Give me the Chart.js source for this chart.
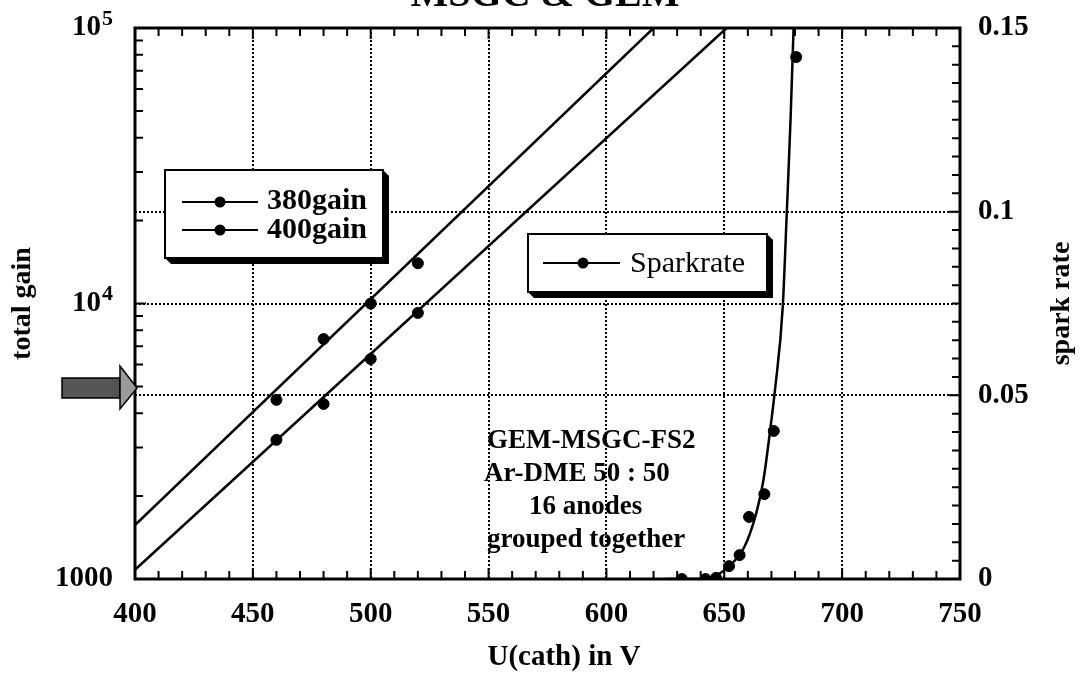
<!DOCTYPE html>
<html>
<head>
<meta charset="utf-8">
<title>MSGC &amp; GEM</title>
<script src="https://cdn.jsdelivr.net/npm/chart.js@4.4.1/dist/chart.umd.min.js"></script>
<style>
  html, body { margin: 0; padding: 0; background: #fff; }
  #wrap { width: 1084px; height: 680px; overflow: hidden; }
</style>
</head>
<body>
<div id="wrap"><canvas id="gainChart" width="1084" height="680"></canvas></div>
<script>
// measured gain, two settings
const voltage380 = [460, 480, 500, 520];
const gain380 = [4470, 7430, 10000, 14000];
const voltage400 = [460, 480, 500, 520];
const gain400 = [3200, 4320, 6290, 9240];

// straight fits (log gain vs voltage), end points
const fit380Volt = [400, 620];
const fit380Gain = [1570, 100000];
const fit400Volt = [400, 651];
const fit400Gain = [1080, 100000];

// spark rate, right axis
const sparkVolt = [632, 642, 646.5, 652, 656.5, 660.5, 667, 671, 680.5];
const sparkRate = [0, 0, 0.0003, 0.0035, 0.0065, 0.0169, 0.0231, 0.0403, 0.1421];
const sparkFitVolt = [625, 636, 644.5, 651.7, 658.5, 663.6, 666.6, 670, 671.5, 674.8, 676.5, 678.1, 679.4];
const sparkFitRate = [0, 0, 0.0005, 0.0033, 0.0087, 0.018, 0.0269, 0.0433, 0.0514, 0.0741, 0.0995, 0.1249, 0.15];

// axis ticks
const voltTicks = [400, 450, 500, 550, 600, 650, 700, 750];
const gainTicks = [1000, 10000, 100000];
const gainBase = ['1000', '10', '10'];
const gainExp = ['', '4', '5'];
const rateTicks = [0, 0.05, 0.1, 0.15];

const serif = "'Liberation Serif', 'Times New Roman', serif";
const pts = (xs, ys) => xs.map((v, i) => ({ x: v, y: ys[i] }));
const dotted = '#000';
const noLine = 'rgba(0,0,0,0)';

const drawBox = (ctx, x, y, w, h) => {
  const d = 6;
  ctx.fillStyle = '#000';
  ctx.beginPath();
  ctx.moveTo(x, y + h);
  ctx.lineTo(x + d, y + h + d);
  ctx.lineTo(x + w + d, y + h + d);
  ctx.lineTo(x + w + d, y + d);
  ctx.lineTo(x + w, y);
  ctx.closePath();
  ctx.fill();
  ctx.fillStyle = '#fff';
  ctx.fillRect(x, y, w, h);
  ctx.lineWidth = 2;
  ctx.strokeStyle = '#000';
  ctx.strokeRect(x, y, w, h);
};

const legendSample = (ctx, x1, x2, xm, y) => {
  ctx.lineWidth = 2;
  ctx.beginPath();
  ctx.moveTo(x1, y);
  ctx.lineTo(x2, y);
  ctx.stroke();
  ctx.fillStyle = '#000';
  ctx.beginPath();
  ctx.arc(xm, y, 5.5, 0, Math.PI * 2);
  ctx.fill();
};

const decorPlugin = {
  id: 'decor',
  afterDraw(chart) {
    const { ctx, chartArea: a, scales } = chart;
    const sx = scales.x, sy = scales.y, sr = scales.y2;
    ctx.save();

    // inward tick marks on all four sides
    ctx.strokeStyle = '#000';
    ctx.lineWidth = 2;
    ctx.beginPath();
    for (let v = 410; v < 750; v += 10) {
      const px = sx.getPixelForValue(v);
      const len = v % 50 === 0 ? 11 : 8;
      ctx.moveTo(px, a.bottom); ctx.lineTo(px, a.bottom - len);
      ctx.moveTo(px, a.top); ctx.lineTo(px, a.top + len);
    }
    [1000, 10000].forEach((dec) => {
      for (let m = 2; m <= 9; m++) {
        const py = sy.getPixelForValue(dec * m);
        ctx.moveTo(a.left, py); ctx.lineTo(a.left + 8, py);
      }
    });
    const py4 = sy.getPixelForValue(10000);
    ctx.moveTo(a.left, py4); ctx.lineTo(a.left + 11, py4);
    for (let k = 1; k < 30; k++) {
      const py = sr.getPixelForValue(k * 0.005);
      const len = k % 10 === 0 ? 11 : 8;
      ctx.moveTo(a.right, py); ctx.lineTo(a.right - len, py);
    }
    ctx.stroke();

    // frame
    ctx.lineWidth = 3;
    ctx.strokeRect(a.left, a.top, a.right - a.left, a.bottom - a.top);

    // left tick labels with raised exponents
    ctx.fillStyle = '#000';
    ctx.textAlign = 'right';
    ctx.textBaseline = 'middle';
    gainTicks.forEach((v, i) => {
      const py = sy.getPixelForValue(v);
      if (gainExp[i]) {
        ctx.font = `bold 22px ${serif}`;
        ctx.fillText(gainExp[i], 113, py - 9);
        ctx.font = `bold 29px ${serif}`;
        ctx.fillText(gainBase[i], 101, py);
      } else {
        ctx.font = `bold 29px ${serif}`;
        ctx.fillText(gainBase[i], 113, py);
      }
    });

    // legend boxes
    drawBox(ctx, 165, 170, 218, 88);
    legendSample(ctx, 182, 258, 220, 202);
    legendSample(ctx, 182, 258, 220, 230);
    ctx.fillStyle = '#000';
    ctx.textAlign = 'left';
    ctx.font = `bold 30px ${serif}`;
    ctx.fillText('380gain', 267, 201);
    ctx.fillText('400gain', 267, 230);

    drawBox(ctx, 528, 234, 239, 58);
    legendSample(ctx, 543, 620, 583, 263);
    ctx.fillStyle = '#000';
    ctx.font = `30px ${serif}`;
    ctx.fillText('Sparkrate', 630, 264);

    // run conditions
    ctx.font = `bold 27px ${serif}`;
    ctx.fillText('GEM-MSGC-FS2', 487, 441);
    ctx.fillText('Ar-DME 50 : 50', 484, 474);
    ctx.fillText('16 anodes', 529, 507);
    ctx.fillText('grouped together', 487, 540);

    // arrow marking the working gain
    ctx.lineWidth = 1.5;
    ctx.fillStyle = '#555';
    ctx.fillRect(62, 378, 58, 20);
    ctx.strokeRect(62, 378, 58, 20);
    ctx.fillStyle = '#9a9a9a';
    ctx.beginPath();
    ctx.moveTo(120, 366);
    ctx.lineTo(137, 388);
    ctx.lineTo(120, 409);
    ctx.closePath();
    ctx.fill();
    ctx.stroke();

    // title (cut by the top edge) and axis titles
    ctx.fillStyle = '#000';
    ctx.textAlign = 'center';
    ctx.textBaseline = 'alphabetic';
    ctx.font = `bold 40px ${serif}`;
    ctx.fillText('MSGC & GEM', 545, 6);

    ctx.textBaseline = 'middle';
    ctx.font = `bold 29px ${serif}`;
    ctx.fillText('U(cath) in V', 564, 658);

    ctx.font = `bold 28px ${serif}`;
    const midY = (a.top + a.bottom) / 2;
    ctx.save();
    ctx.translate(23, midY);
    ctx.rotate(-Math.PI / 2);
    ctx.fillText('total gain', 0, 0);
    ctx.restore();
    ctx.save();
    ctx.translate(1062, midY);
    ctx.rotate(-Math.PI / 2);
    ctx.fillText('spark rate', 0, 0);
    ctx.restore();

    ctx.restore();
  }
};

const tickFont = { family: serif, size: 29, weight: 'bold' };
const noPad = (scale) => {
  scale.paddingTop = 0;
  scale.paddingBottom = 0;
  scale.paddingLeft = 0;
  scale.paddingRight = 0;
};

new Chart(document.getElementById('gainChart'), {
  type: 'scatter',
  data: {
    datasets: [
      { label: '380gain', data: pts(voltage380, gain380), yAxisID: 'y',
        pointRadius: 5.5, pointBackgroundColor: '#000', pointBorderColor: '#000' },
      { label: '400gain', data: pts(voltage400, gain400), yAxisID: 'y',
        pointRadius: 5.5, pointBackgroundColor: '#000', pointBorderColor: '#000' },
      { label: 'fit 380', data: pts(fit380Volt, fit380Gain), yAxisID: 'y', showLine: true,
        pointRadius: 0, borderColor: '#000', borderWidth: 2.5 },
      { label: 'fit 400', data: pts(fit400Volt, fit400Gain), yAxisID: 'y', showLine: true,
        pointRadius: 0, borderColor: '#000', borderWidth: 2.5 },
      { label: 'Sparkrate', data: pts(sparkVolt, sparkRate), yAxisID: 'y2',
        pointRadius: 5.5, pointBackgroundColor: '#000', pointBorderColor: '#000' },
      { label: 'spark fit', data: pts(sparkFitVolt, sparkFitRate), yAxisID: 'y2', showLine: true,
        cubicInterpolationMode: 'monotone', pointRadius: 0, borderColor: '#000', borderWidth: 2.5 }
    ]
  },
  options: {
    responsive: false,
    animation: false,
    devicePixelRatio: 1,
    layout: { padding: { top: 28, left: 0, right: 0, bottom: 0 } },
    plugins: { legend: { display: false }, tooltip: { enabled: false } },
    scales: {
      x: {
        type: 'linear', position: 'bottom', min: 400, max: 750,
        afterBuildTicks: (scale) => { scale.ticks = voltTicks.map((v) => ({ value: v })); },
        afterFit: (scale) => { scale.height = 101; noPad(scale); },
        ticks: { autoSkip: false, maxRotation: 0, padding: 18, color: '#000', font: tickFont },
        grid: {
          drawTicks: false, lineWidth: 2,
          color: (c) => (c.tick && c.tick.value > 400 && c.tick.value < 750 ? dotted : noLine)
        },
        border: { display: false, dash: [2, 2] }
      },
      y: {
        type: 'logarithmic', position: 'left', min: 1000, max: 100000,
        afterBuildTicks: (scale) => { scale.ticks = gainTicks.map((v) => ({ value: v })); },
        afterFit: (scale) => { scale.width = 135; noPad(scale); },
        ticks: { display: false },
        grid: {
          drawTicks: false, lineWidth: 2,
          color: (c) => (c.tick && c.tick.value === 10000 ? dotted : noLine)
        },
        border: { display: false, dash: [2, 2] }
      },
      y2: {
        type: 'linear', position: 'right', min: 0, max: 0.15,
        afterBuildTicks: (scale) => { scale.ticks = rateTicks.map((v) => ({ value: v })); },
        afterFit: (scale) => { scale.width = 124; noPad(scale); },
        ticks: { padding: 18, color: '#000', font: tickFont, callback: (v) => String(v) },
        grid: {
          drawTicks: false, lineWidth: 2,
          color: (c) => (c.tick && (c.tick.value === 0.05 || c.tick.value === 0.1) ? dotted : noLine)
        },
        border: { display: false, dash: [2, 2] }
      }
    }
  },
  plugins: [decorPlugin]
});
</script>
</body>
</html>
